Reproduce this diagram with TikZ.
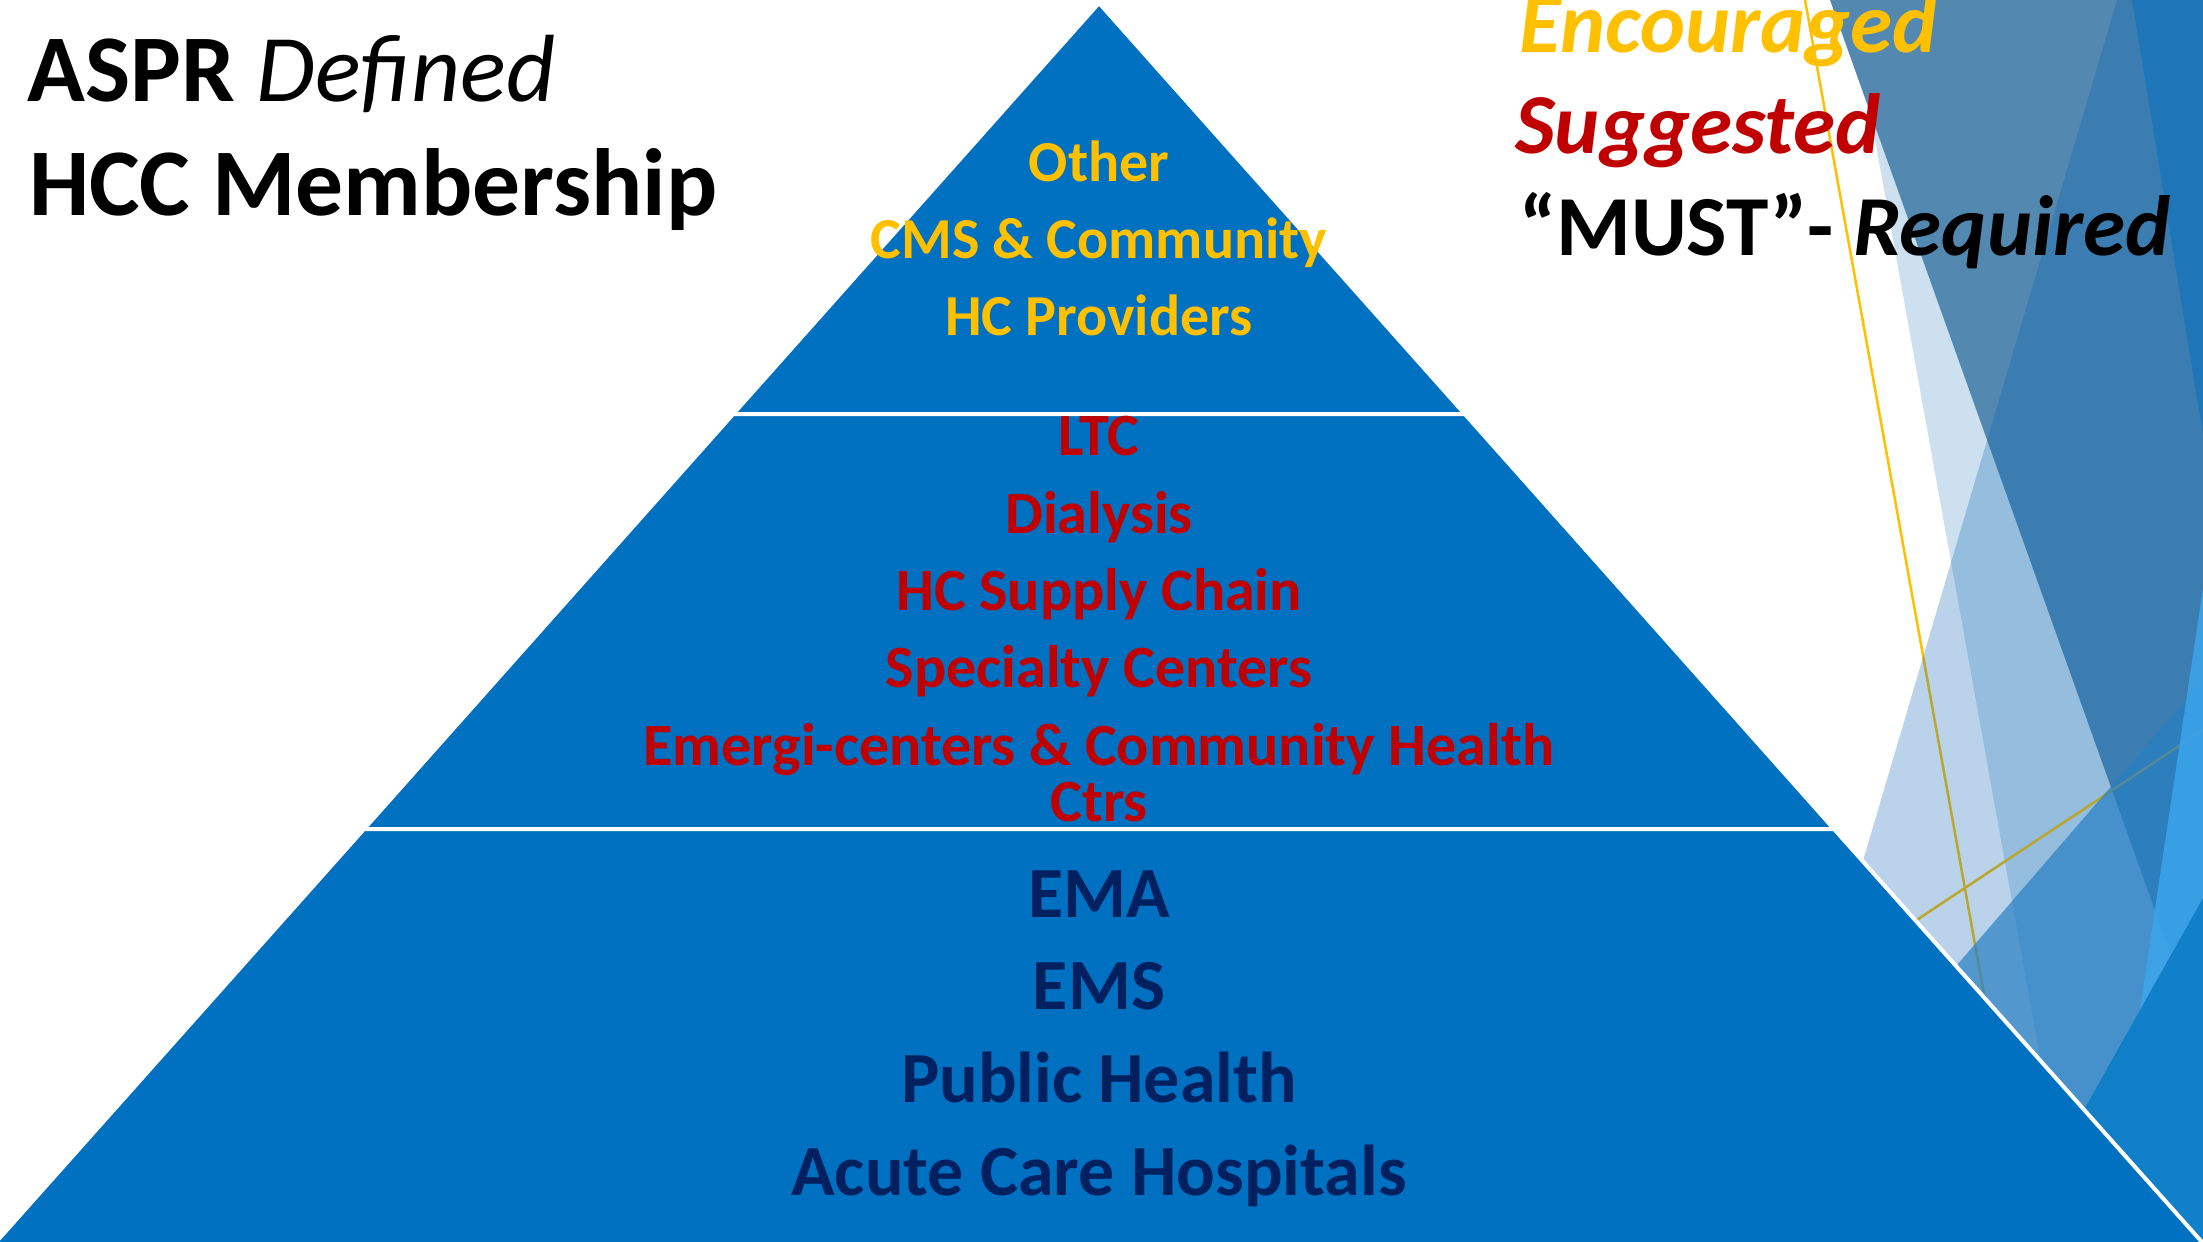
\documentclass[tikz,border=0pt]{standalone}
\usepackage{fontspec}
\setmainfont{Carlito}
\definecolor{pyr}{HTML}{0070C0}
\definecolor{gold}{HTML}{FFC000}
\definecolor{darkred}{HTML}{C00000}
\definecolor{navy}{HTML}{002060}
\definecolor{facetL}{RGB}{204,224,239}
\definecolor{facetS}{RGB}{83,137,177}
\definecolor{facetV}{RGB}{0,96,178}
\definecolor{facetT}{RGB}{38,127,195}
\definecolor{facetF}{RGB}{30,118,184}
\definecolor{facetI}{RGB}{60,165,235}
\definecolor{facetK}{RGB}{14,126,200}
\tikzset{
  tier/.style={fill=pyr, draw=white, line width=4pt, line join=miter},
  topline/.style={text=gold, font=\bfseries\fontsize{58}{70}\selectfont, inner sep=0pt, anchor=base},
  midline/.style={text=darkred, font=\bfseries\fontsize{60}{70}\selectfont, inner sep=0pt, anchor=base},
  botline/.style={text=navy, font=\bfseries\fontsize{72}{84}\selectfont, inner sep=0pt, anchor=base},
  titleline/.style={text=black, font=\fontsize{95.5}{110}\selectfont, inner sep=0pt, anchor=base west},
  ruleline/.style={font=\bfseries\itshape\fontsize{85.5}{100}\selectfont, inner sep=0pt, anchor=base west},
  facetline/.style={draw=gold, line width=2.5pt}
}
\begin{document}
\begin{tikzpicture}[x=1pt,y=-1pt]
\useasboundingbox (0,0) rectangle (2203,1242);
\clip (0,0) rectangle (2203,1242);
\fill[white] (0,0) rectangle (2203,1242);
% facet decoration
\fill[facetL] (1850,0) -- (2045,1085) -- (2203,1242) -- (2203,0) -- cycle;
\fill[facetS] (1830,0) -- (2203,1045) -- (2203,0) -- cycle;
\draw[facetline] (1805,0) -- (1985,1000);
\draw[facetline] (1900,931) -- (2203,730);
\fill[facetV, fill opacity=0.27] (2117,0) -- (1780,1142) -- (2203,1242) -- (2203,0) -- cycle;
\fill[facetT, fill opacity=0.7] (1900,1031) -- (2203,680) -- (2203,1242) -- (1900,1242) -- cycle;
\fill[facetF] (2132,0) -- (2203,0) -- (2203,435) -- cycle;
\fill[facetI, fill opacity=0.85] (2203,588) -- (2107,1230) -- (2203,1242) -- cycle;
\fill[facetK, fill opacity=0.93] (2203,898) -- (2040,1188) -- (2040,1242) -- (2203,1242) -- cycle;
% pyramid
\draw[tier] (1099,3) -- (1464.8,414) -- (733.2,414) -- cycle;
\draw[tier] (733.2,414) -- (1464.8,414) -- (1834,829) -- (364,829) -- cycle;
\draw[tier] (364,829) -- (1834,829) -- (2209,1250) -- (-11,1250) -- cycle;
% top tier text
\node[topline] (o1) at (1099,181) {Other};
\node[topline] (o2) at (1099,258) {CMS \& Community};
\node[topline] (o3) at (1099,335) {HC Providers};
% middle tier text
\node[midline] (m1) at (1099,455) {LTC};
\node[midline] (m2) at (1099,533) {Dialysis};
\node[midline] (m3) at (1099,610) {HC Supply Chain};
\node[midline] (m4) at (1099,687) {Specialty Centers};
\node[midline] (m5) at (1099,765) {Emergi-centers \& Community Health};
\node[midline] (m6) at (1099,821) {Ctrs};
% bottom tier text
\node[botline] (b1) at (1099,917) {EMA};
\node[botline] (b2) at (1099,1009) {EMS};
\node[botline] (b3) at (1099,1102) {Public Health};
\node[botline] (b4) at (1099,1195) {Acute Care Hospitals};
% title
\node[titleline] (t1) at (27,101) {\textbf{ASPR} \textit{Defined}};
\node[titleline] (t2) at (29,215) {\textbf{HCC Membership}};
% legend
\node[ruleline, text=gold] (r1) at (1519,52) {Encouraged};
\node[ruleline, text=darkred] (r2) at (1515,153) {Suggested};
\node[ruleline, text=black] (r3) at (1519,255) {\upshape “MUST”- \itshape Required};
\end{tikzpicture}
\end{document}
